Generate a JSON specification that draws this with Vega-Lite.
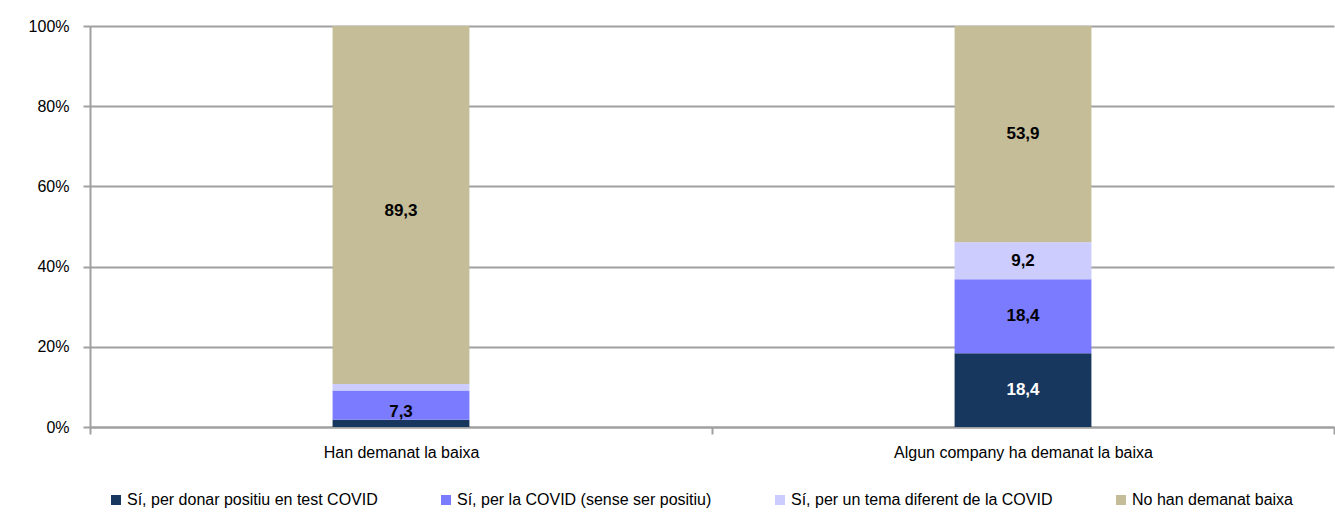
{
  "$schema": "https://vega.github.io/schema/vega-lite/v6.json",
  "width": 1335,
  "height": 513,
  "autosize": {"type": "fit", "contains": "padding"},
  "padding": {"left": 28, "top": 18, "right": 0, "bottom": -13},
  "background": "white",
  "config": {
    "font": "Liberation Sans, Arial",
    "view": {"stroke": null},
    "locale": {"number": {"decimal": ",", "thousands": ".", "grouping": [3], "currency": ["", " €"]}},
    "axis": {"labelFont": "Liberation Sans, Arial", "labelFontSize": 16, "labelColor": "#000000", "labelLimit": 400, "domainColor": "#a0a0a0", "domainWidth": 2, "tickColor": "#a0a0a0", "tickWidth": 2, "gridColor": "#a0a0a0", "gridWidth": 2, "title": null}
  },
  "data": {
    "values": [
      {"cat": "Han demanat la baixa", "serie": "Sí, per donar positiu en test COVID", "k": 1, "v": 1.8},
      {"cat": "Han demanat la baixa", "serie": "Sí, per la COVID (sense ser positiu)", "k": 2, "v": 7.3},
      {"cat": "Han demanat la baixa", "serie": "Sí, per un tema diferent de la COVID", "k": 3, "v": 1.6},
      {"cat": "Han demanat la baixa", "serie": "No han demanat baixa", "k": 4, "v": 89.3},
      {"cat": "Algun company ha demanat la baixa", "serie": "Sí, per donar positiu en test COVID", "k": 1, "v": 18.4},
      {"cat": "Algun company ha demanat la baixa", "serie": "Sí, per la COVID (sense ser positiu)", "k": 2, "v": 18.4},
      {"cat": "Algun company ha demanat la baixa", "serie": "Sí, per un tema diferent de la COVID", "k": 3, "v": 9.2},
      {"cat": "Algun company ha demanat la baixa", "serie": "No han demanat baixa", "k": 4, "v": 53.9}
    ]
  },
  "encoding": {
    "x": {
      "field": "cat", "type": "nominal", "sort": null,
      "scale": {"paddingInner": 0, "paddingOuter": 0},
      "axis": {"labelAngle": 0, "tickBand": "extent", "tickSize": 7, "labelPadding": 10, "grid": false}
    },
    "order": {"field": "k", "type": "quantitative", "sort": "ascending"}
  },
  "layer": [
    {
      "mark": {"type": "bar", "width": {"band": 0.22}},
      "encoding": {
        "y": {
          "field": "v", "type": "quantitative", "stack": "normalize",
          "axis": {"format": ".0%", "values": [0, 0.2, 0.4, 0.6, 0.8, 1], "tickSize": 7, "labelPadding": 14, "grid": true, "domain": true, "labelOverlap": false}
        },
        "color": {
          "field": "serie", "type": "nominal",
          "scale": {
            "domain": ["Sí, per donar positiu en test COVID", "Sí, per la COVID (sense ser positiu)", "Sí, per un tema diferent de la COVID", "No han demanat baixa"],
            "range": ["#17375e", "#7b7bff", "#ccccff", "#c4bd97"]
          },
          "legend": {
            "orient": "bottom", "direction": "horizontal", "columns": 4, "title": null,
            "symbolType": "square", "symbolSize": 100, "symbolStrokeWidth": 0,
            "labelFontSize": 16, "labelLimit": 400, "labelColor": "#000000", "labelOffset": 3,
            "columnPadding": 60, "padding": 18, "offset": 14
          }
        }
      }
    },
    {
      "transform": [{"filter": "datum.v > 5"}],
      "mark": {"type": "text", "fontWeight": "bold", "fontSize": 17, "baseline": "middle"},
      "encoding": {
        "y": {
          "field": "v", "type": "quantitative", "stack": "normalize", "bandPosition": 0.5,
          "axis": {"format": ".0%", "values": [0, 0.2, 0.4, 0.6, 0.8, 1], "tickSize": 7, "labelPadding": 14, "grid": true, "domain": true, "labelOverlap": false}
        },
        "text": {"field": "v", "type": "quantitative", "format": ".1f"},
        "color": {
          "condition": {"test": "datum.k == 1", "value": "#ffffff"},
          "value": "#000000"
        }
      }
    }
  ]
}
